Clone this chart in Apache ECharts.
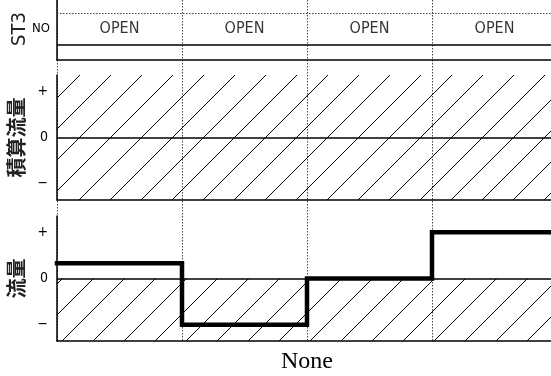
<!DOCTYPE html>
<html>
<head>
<meta charset="utf-8">
<script src="https://cdn.jsdelivr.net/npm/echarts@6/dist/echarts.min.js"></script>
<style>
  html, body { margin: 0; padding: 0; background: #fff; }
  #chart { width: 551px; height: 376px; }
</style>
</head>
<body>
<div id="chart"></div>
<script>
// columns (time slots) and what each one shows
const slotEdges = [0, 1, 2, 3, 4];
const valveStates = ['OPEN', 'OPEN', 'OPEN', 'OPEN'];
// flow level per slot (+1 = "+", -1 = "−")
const flowLevels = [0.33, -1, 0, 1];
const signTicks = [-1, 0, 1];
const signNames = ['−', '0', '+'];
const panelNames = ['ST3', '積算流量', '流量'];
const xName = 'None';

const chart = echarts.init(document.getElementById('chart'));

// diagonal hatch tile
function hatch() {
  const s = 31;
  const c = document.createElement('canvas');
  c.width = s; c.height = s;
  const g = c.getContext('2d');
  g.strokeStyle = '#000';
  g.lineWidth = 1;
  g.beginPath();
  g.moveTo(-2, s + 2); g.lineTo(s + 2, -2);
  g.moveTo(-2, 2); g.lineTo(2, -2);
  g.moveTo(s - 2, s + 2); g.lineTo(s + 2, s - 2);
  g.stroke();
  return { image: c, repeat: 'repeat' };
}
const hatchFill = hatch();

const LEFT = 57, WIDTH = 500;
const black = '#000';
const sans = 'DejaVu Sans Condensed';

function xAx(gridIndex, showLine, extra) {
  return Object.assign({
    type: 'value', gridIndex, min: 0, max: 4, interval: 1,
    axisLine: { show: showLine, onZero: false, lineStyle: { color: black, width: 1.5 } },
    axisTick: { show: false }, axisLabel: { show: false }, splitLine: { show: false }
  }, extra || {});
}

function signAxis(gridIndex, name) {
  return {
    type: 'value', gridIndex, min: -1.35, max: 1.35,
    name, nameLocation: 'middle', nameRotate: 90, nameGap: 29,
    nameTextStyle: { fontFamily: 'Noto Sans CJK JP', fontSize: 20, fontWeight: 'bold', color: '#222' },
    axisLine: { show: true, onZero: false, lineStyle: { color: black, width: 1.5 } },
    axisTick: { show: false },
    axisLabel: {
      customValues: signTicks, margin: 9,
      fontFamily: sans, fontSize: 14, color: black,
      formatter: v => signNames[signTicks.indexOf(Math.round(v))]
    },
    splitLine: { show: false }
  };
}

const stepData = flowLevels.map((v, i) => [slotEdges[i], v]);
stepData.push([slotEdges[4], flowLevels[3]]);

const gridBase = { left: LEFT, width: WIDTH, outerBoundsMode: 'none', containLabel: false };

chart.setOption({
  animation: false,
  grid: [
    Object.assign({ top: -2, height: 62 }, gridBase),
    Object.assign({ top: 75, height: 125 }, gridBase),
    Object.assign({ top: 216, height: 125 }, gridBase),
    Object.assign({ top: 0, height: 341 }, gridBase)
  ],
  xAxis: [
    xAx(0, true),
    xAx(1, true),
    xAx(2, true, {
      name: xName, nameLocation: 'middle', nameGap: 9,
      nameTextStyle: { fontFamily: 'Liberation Serif', fontSize: 24, color: black }
    }),
    xAx(3, false, { splitLine: { show: true, lineStyle: { color: '#444', width: 1, type: [1.5, 1.5] } } })
  ],
  yAxis: [
    {
      type: 'value', gridIndex: 0, min: 0, max: 4,
      name: panelNames[0], nameLocation: 'middle', nameRotate: 90, nameGap: 27, nameMoveOverlap: false,
      nameTextStyle: { fontFamily: sans, fontSize: 20, color: '#222' },
      axisLine: { show: true, onZero: false, lineStyle: { color: black, width: 1.5 } },
      axisTick: { show: false },
      axisLabel: { customValues: [2], margin: 7, fontFamily: sans, fontSize: 13, color: black, formatter: () => 'NO' },
      splitLine: { show: false }
    },
    signAxis(1, panelNames[1]),
    signAxis(2, panelNames[2]),
    { type: 'value', gridIndex: 3, min: 0, max: 1, show: false }
  ],
  series: [
    {
      type: 'scatter', xAxisIndex: 0, yAxisIndex: 0, symbolSize: 0, silent: true,
      data: valveStates.map((s, i) => ({ value: [slotEdges[i] + 0.5, 2], name: s })),
      label: { show: true, position: 'inside', formatter: p => p.name, fontFamily: sans, fontSize: 16, color: black },
      markLine: {
        silent: true, symbol: 'none', label: { show: false },
        data: [
          { yAxis: 1, lineStyle: { color: black, width: 1.5, type: 'solid' } },
          { yAxis: 3, lineStyle: { color: '#444', width: 1, type: [1.5, 1.5] } }
        ]
      }
    },
    {
      type: 'line', xAxisIndex: 1, yAxisIndex: 1, data: [], silent: true,
      markArea: {
        silent: true, itemStyle: { color: hatchFill, opacity: 1 },
        data: [[{ xAxis: 0, yAxis: -1.35 }, { xAxis: 4, yAxis: 1.35 }]]
      },
      markLine: {
        silent: true, symbol: 'none', label: { show: false },
        lineStyle: { color: black, width: 1.5, type: 'solid' },
        data: [{ yAxis: 0 }]
      }
    },
    {
      type: 'line', xAxisIndex: 2, yAxisIndex: 2, step: 'end', showSymbol: false, silent: true,
      data: stepData,
      lineStyle: { color: black, width: 4.5, join: 'miter', cap: 'square' },
      markArea: {
        silent: true, itemStyle: { color: hatchFill, opacity: 1 },
        data: [[{ xAxis: 0, yAxis: -1.35 }, { xAxis: 4, yAxis: 0 }]]
      },
      markLine: {
        silent: true, symbol: 'none', label: { show: false },
        lineStyle: { color: black, width: 1.5, type: 'solid' },
        data: [{ yAxis: 0 }]
      },
      z: 5
    },
    { type: 'line', xAxisIndex: 3, yAxisIndex: 3, data: [] }
  ]
});
</script>
</body>
</html>
